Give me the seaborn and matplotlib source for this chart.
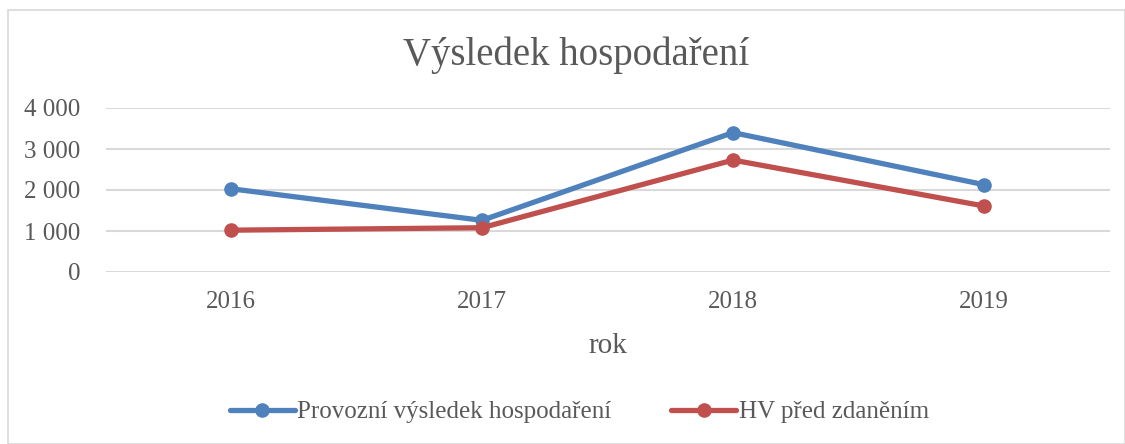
import pandas as pd
import matplotlib.pyplot as plt
import matplotlib.patches as mpatches
import seaborn as sns

years = ['2016', '2017', '2018', '2019']
provozni = [2030, 1260, 3400, 2130]
hv_pred = [1020, 1080, 2730, 1610]
series_names = ['Provozní výsledek hospodaření', 'HV před zdaněním']
yticks = [0, 1000, 2000, 3000, 4000]

df = pd.DataFrame({
    'rok': years * 2,
    'hodnota': provozni + hv_pred,
    'serie': [series_names[0]] * 4 + [series_names[1]] * 4,
})

sns.set_theme(style='white')
plt.rcParams['font.family'] = ['Liberation Serif', 'DejaVu Serif']
text_col = '#595959'

fig = plt.figure(figsize=(11.25, 4.44), dpi=100)
fig.patch.set_facecolor('white')
# chart frame
fig.patches.append(mpatches.Rectangle((8 / 1125, 0), 1 - 8 / 1125, 1 - 10 / 444,
                                      transform=fig.transFigure, fill=False,
                                      edgecolor='#D9D9D9', linewidth=1.2))
ax = fig.add_axes([105.5 / 1125, 172 / 444, 1004 / 1125, 164 / 444])

palette = {series_names[0]: '#4F81BD', series_names[1]: '#C0504D'}
sns.lineplot(data=df, x='rok', y='hodnota', hue='serie', palette=palette,
             marker='o', markersize=10.5, markeredgewidth=0, linewidth=3.8,
             sort=False, ax=ax, legend=False)

ax.set_xlim(-0.5, 3.5)
ax.set_ylim(0, 4000)
ax.set_yticks(yticks)
ax.set_yticklabels([f'{v:,}'.replace(',', ' ') for v in yticks])
ax.yaxis.grid(True, color='#D9D9D9', linewidth=1.5)
ax.set_axisbelow(True)
for s in ax.spines.values():
    s.set_visible(False)
ax.tick_params(axis='both', length=0, labelsize=18, colors=text_col)
ax.tick_params(axis='x', pad=14)
ax.tick_params(axis='y', pad=18)
ax.set_xlabel('rok', fontsize=21, color=text_col, labelpad=14)
ax.set_ylabel('')

fig.text(0.512, 0.875, 'Výsledek hospodaření', ha='center', va='center',
         fontsize=28, color=text_col)

handles = [plt.Line2D([], [], color=palette[n], marker='o', markersize=10.5,
                      markeredgewidth=0, linewidth=3.8) for n in series_names]
fig.legend(handles, series_names, loc='center', bbox_to_anchor=(0.515, 0.072),
           ncol=2, frameon=False, fontsize=18, handlelength=2.6,
           handletextpad=0.1, columnspacing=2.4, labelcolor=text_col)

fig.savefig('out.png', dpi=100)
